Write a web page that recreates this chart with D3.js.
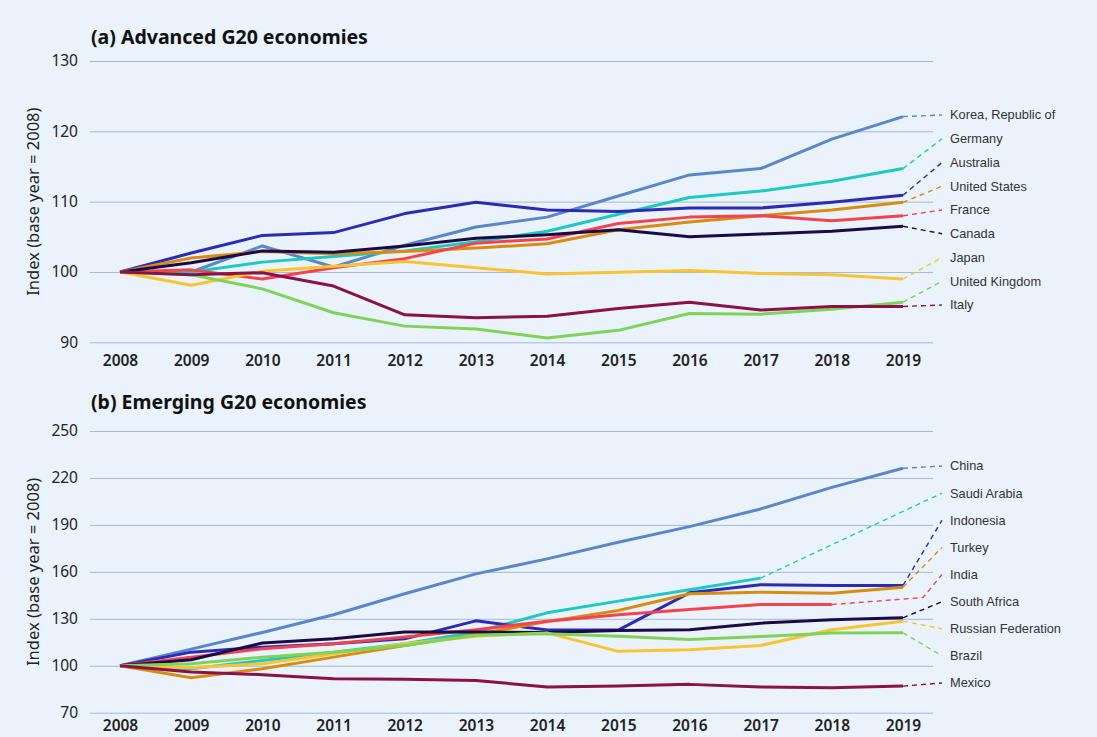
<!DOCTYPE html>
<html lang="en">
<head>
    <meta charset="UTF-8">
    <script src="https://d3js.org/d3.v7.min.js"></script>
    <title>G20 index</title>
    <style>
        body { margin: 0; background: #eaf3fc; }
        svg { display: block; background: #eaf3fc; }
        .tick text { font-family: 'Noto Sans', sans-serif; fill: #222; }
        .title { font-family: 'Noto Sans', sans-serif; font-weight: bold; font-size: 19.5px; fill: #111; }
        .ylab { font-family: 'Noto Sans', sans-serif; font-size: 16.5px; fill: #222; text-anchor: middle; }
        .lab { font-family: 'Liberation Sans', Arial, sans-serif; font-size: 12.8px; fill: #333; }
    </style>
</head>
<body>
<svg height="737" width="1097"></svg>
<script>
    const years = [2008,2009,2010,2011,2012,2013,2014,2015,2016,2017,2018,2019];

    // (a) advanced
    const advNames = ["Korea, Republic of","Germany","Australia","United States","France","Canada","Japan","United Kingdom","Italy"];
    const korea   = [100,100,103.7,100.7,103.8,106.4,107.8,110.8,113.8,114.7,118.9,122.1];
    const germany = [100,100,101.4,102.2,103,104.3,105.8,108.2,110.6,111.5,112.9,114.7];
    const austr   = [100,102.7,105.2,105.6,108.3,109.9,108.8,108.6,109.1,109.1,109.9,110.9];
    const usa     = [100,102,102.9,102.6,102.9,103.4,104,106,107.1,108,108.8,109.9];
    const france  = [100,100.3,99,100.6,101.9,104.1,104.7,106.9,107.8,108,107.3,108];
    const canada  = [100,101.3,103,102.8,103.7,104.8,105.3,106,105,105.4,105.8,106.5];
    const japan   = [100,98.1,100.1,100.8,101.5,100.6,99.7,99.95,100.2,99.8,99.6,99];
    const uk      = [100,99.6,97.6,94.2,92.3,91.9,90.6,91.7,94.1,94,94.7,95.7];
    const italy   = [100,99.6,99.9,98,93.9,93.5,93.7,94.8,95.7,94.6,95.1,95.1];
    const advTicks = [90,100,110,120,130];

    // (b) emerging
    const emNames = ["China","Saudi Arabia","Indonesia","Turkey","India","South Africa","Russian Federation","Brazil","Mexico"];
    const china   = [100,110.6,121.3,132.6,146,158.7,168.3,178.9,188.9,200.2,214,226.2];
    const saudi   = [100,98.1,103.4,108.7,114,121.5,133.8,141.3,148.5,156];
    const indo    = [100,108.7,111.9,114,117.2,128.7,122.8,122.8,146.6,151.7,151.3,151.3];
    const turkey  = [100,92.3,98.1,105.5,113,120,128.2,135.3,146,147,146.4,150.2];
    const india   = [100,105.5,110.9,114,118.3,123,128.5,132.6,136,139.1,139.1];
    const safrica = [100,103.8,114.5,117.2,121.5,121.5,121.3,122.6,123,127.2,129.4,130.6];
    const russia  = [100,98.7,101.3,107.7,114,118.9,121,109.2,110.2,113,123,128.5];
    const brazil  = [100,101.3,105.5,108.7,113,119.5,120.5,118.8,116.8,118.7,120.9,121.1];
    const mexico  = [100,96,94.3,91.7,91.3,90.6,86.4,87,88.1,86.4,86,87];
    const emTicks = [70,100,130,160,190,220,250];

    const colors = ["#5a87c9","#1ec9c1","#2b2bb8","#d98c12","#f2434f","#1c0a45","#f9c433","#80d35a","#8b1148"];

    const svg = d3.select("svg");
    const x = d3.scaleLinear().domain([2008, 2019]).range([120, 903]);

    drawPanel("(a) Advanced G20 economies", advNames, [korea,germany,austr,usa,france,canada,japan,uk,italy],
        advTicks, [342.3, 61], 44, [115, 305], 13);
    drawPanel("(b) Emerging G20 economies", emNames, [china,saudi,indo,turkey,india,safrica,russia,brazil,mexico],
        emTicks, [712.7, 431], 409, [466, 683], 7.5);

    function drawPanel(title, names, series, ticks, yRange, titleY, labRange, pad) {
        const y = d3.scaleLinear().domain(d3.extent(ticks)).range(yRange);
        const g = svg.append("g");

        const ya = g.append("g").attr("transform", "translate(90,0)")
            .call(d3.axisLeft(y).tickValues(ticks).tickSize(-843).tickPadding(12));
        ya.select(".domain").remove();
        ya.selectAll("line").attr("stroke", "#a3b9d4");
        ya.selectAll("text").style("font-size", "15.5px");

        const xa = g.append("g").attr("transform", `translate(0,${yRange[0]})`)
            .call(d3.axisBottom(x).tickValues(years).tickFormat(d3.format("d")).tickSize(0).tickPadding(pad));
        xa.select(".domain").remove();
        xa.selectAll("text").style("font-size", "15.5px").style("font-weight", 600);

        g.append("text").attr("class", "title").attr("x", 91).attr("y", titleY).text(title);
        const mid = (yRange[0] + yRange[1]) / 2;
        g.append("text").attr("class", "ylab")
            .attr("transform", `translate(39,${mid}) rotate(-90)`)
            .text("Index (base year = 2008)");

        const labY = d3.scalePoint().domain(names).range(labRange);
        const line = d3.line().x((d, i) => x(years[i])).y(d => y(d));

        series.forEach((vals, k) => {
            const n = vals.length - 1;
            const px = x(years[n]), py = y(vals[n]);
            const pts = [[px, py]];
            if (n === years.length - 2) pts.push([x(2019) + 20, py - 7]);
            pts.push([942, labY(names[k])]);
            g.append("path").attr("d", d3.line()(pts))
                .attr("fill", "none").attr("stroke", colors[k])
                .attr("stroke-width", 1.4).attr("stroke-dasharray", "5,4");
            g.append("text").attr("class", "lab")
                .attr("x", 950).attr("y", labY(names[k])).attr("dy", "0.35em")
                .text(names[k]);
        });

        series.forEach((vals, k) => {
            g.append("path").datum(vals).attr("d", line)
                .attr("fill", "none").attr("stroke", colors[k])
                .attr("stroke-width", 3).attr("stroke-linejoin", "round");
        });
    }
</script>
</body>
</html>
